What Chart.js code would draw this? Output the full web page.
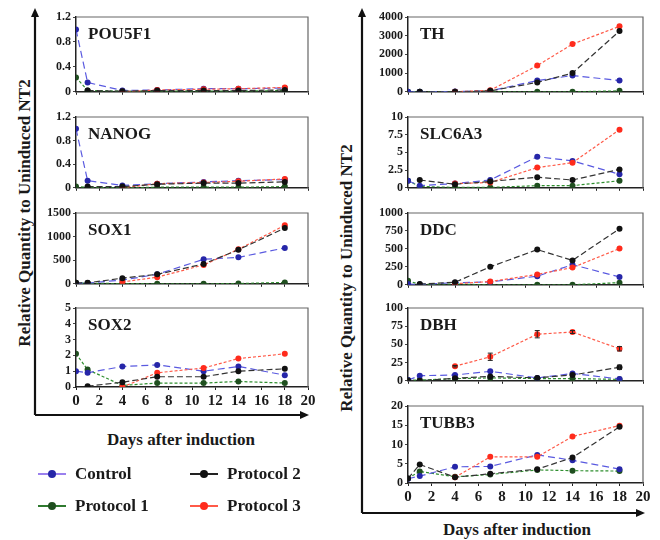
<!DOCTYPE html>
<html>
<head>
<meta charset="utf-8">
<script src="https://cdn.jsdelivr.net/npm/chart.js@4.4.0/dist/chart.umd.min.js"></script>
<style>
body { margin: 0; background: #fff; }
#page { position: relative; width: 660px; height: 540px; overflow: hidden; background: #fff;
        font-family: "Liberation Serif", "DejaVu Serif", serif; font-weight: 700; color: #1a1a1a; }
#page canvas { position: absolute; }
.ytitle { position: absolute; font-size: 17px; white-space: nowrap; transform: translate(-50%, -50%) rotate(-90deg); }
.xtitle { position: absolute; font-size: 17px; white-space: nowrap; transform: translate(-50%, -50%); }
.leg { position: absolute; font-size: 17px; white-space: nowrap; display: flex; align-items: center; height: 20px; }
.leg .sw { position: relative; width: 28px; height: 10px; margin-right: 9px; }
.leg .sw i { position: absolute; left: 0; right: 0; top: 4px; height: 1.5px; }
.leg .sw b { position: absolute; left: 10px; top: 1px; width: 8px; height: 8px; border-radius: 50%; }
</style>
</head>
<body>
<div id="page">
  <div class="ytitle" style="left:25px; top:213px;">Relative Quantity to Uninduced NT2</div>
  <div class="ytitle" style="left:347px; top:278px;">Relative Quantity to Uninduced NT2</div>
  <div class="xtitle" style="left:181px; top:440px;">Days after induction</div>
  <div class="xtitle" style="left:517px; top:530px;">Days after induction</div>
</div>
<script>
// days sampled
const days = [0, 1, 4, 7, 11, 14, 18];
const seriesNames = ['Control', 'Protocol 1', 'Protocol 2', 'Protocol 3'];

// values per gene (Control, Protocol 1, Protocol 2, Protocol 3)
const pou5f1Control = [1.0, 0.15, 0.02, 0.03, 0.05, 0.05, 0.06];
const pou5f1P1 = [0.23, 0.02, 0.01, 0.01, 0.01, 0.01, 0.02];
const pou5f1P2 = [null, 0.02, 0.01, 0.02, 0.02, 0.02, 0.03];
const pou5f1P3 = [null, null, 0.0, 0.03, 0.04, 0.05, 0.07];

const nanogControl = [1.0, 0.12, 0.04, 0.07, 0.1, 0.12, 0.14];
const nanogP1 = [0.02, 0.01, 0.0, 0.01, 0.01, 0.01, 0.02];
const nanogP2 = [null, 0.02, 0.02, 0.06, 0.08, 0.08, 0.1];
const nanogP3 = [null, null, 0.0, 0.07, 0.09, 0.11, 0.15];

const sox1Control = [10, 15, 80, 200, 520, 560, 760];
const sox1P1 = [20, 10, 5, 0, 0, 5, 30];
const sox1P2 = [20, 20, 120, 200, 420, 720, 1180];
const sox1P3 = [null, null, 40, 140, 400, 730, 1240];

const sox2Control = [1.0, 0.9, 1.3, 1.4, 1.0, 1.3, 0.75];
const sox2P1 = [2.1, 1.1, 0.1, 0.25, 0.25, 0.35, 0.25];
const sox2P2 = [null, 0.05, 0.3, 0.65, 0.65, 1.0, 1.15];
const sox2P3 = [null, null, 0.0, 0.9, 1.2, 1.8, 2.1];

const thControl = [0, 0, 10, 50, 600, 870, 600];
const thP1 = [0, 0, 0, 0, 0, 0, 50];
const thP2 = [null, 0, 0, 50, 500, 1000, 3250];
const thP3 = [null, null, 0, 80, 1400, 2550, 3500];

const slc6a3Control = [1.0, 0.3, 0.6, 1.1, 4.4, 3.8, 1.9];
const slc6a3P1 = [1.0, 0.2, 0.05, 0.05, 0.3, 0.3, 1.0];
const slc6a3P2 = [null, 1.1, 0.5, 0.9, 1.5, 1.1, 2.6];
const slc6a3P3 = [null, null, 0.6, 0.75, 2.85, 3.55, 8.2];

const ddcControl = [10, 5, 30, 40, 120, 280, 110];
const ddcP1 = [55, 5, 10, 0, 0, 0, 30];
const ddcP2 = [null, 10, 35, 250, 490, 340, 780];
const ddcP3 = [null, null, 15, 45, 145, 240, 505];

const dbhControl = [1, 7, 8, 13, 4, 10, 2.5];
const dbhP1 = [1, 1, 3, 4, 3, 3, 2];
const dbhP2 = [0.5, 0, 3.5, 6, 4, 8, 18.5];
const dbhP2Err = [null, null, null, null, null, null, 3];
const dbhP3 = [null, null, 20, 33, 64, 67, 44];
const dbhP3Err = [null, null, 1, 5, 5, 2, 3];

const tubb3Control = [1.1, 1.8, 4.2, 4.3, 7.3, 5.9, 3.6];
const tubb3P1 = [1.2, 3.0, 1.6, 2.2, 3.4, 3.2, 3.1];
const tubb3P2 = [1.2, 4.8, 1.5, 2.4, 3.6, 6.6, 14.6];
const tubb3P3 = [null, null, 1.5, 6.8, 6.8, 12.1, 14.9];

// styles
const markerColors = ['#2626a8', '#1f4f1f', '#111111', '#ff2b1c'];
const lineColors = ['#5a5ae0', '#2f8f2f', '#333333', '#ff5a48'];
const lineDashes = [[7, 4], [3, 2], [6, 3], [3, 2]];
const legendLineColors = ['#9a80ee', '#2f7a2f', '#222222', '#ff5a48'];

const panels = [
    { gene: 'POU5F1', values: [pou5f1Control, pou5f1P1, pou5f1P2, pou5f1P3], max: 1.2, step: 0.4, rect: [76, 17, 308, 97], col: 0 },
    { gene: 'NANOG', values: [nanogControl, nanogP1, nanogP2, nanogP3], max: 1.2, step: 0.4, rect: [76, 117, 308, 193], col: 0 },
    { gene: 'SOX1', values: [sox1Control, sox1P1, sox1P2, sox1P3], max: 1500, step: 500, rect: [76, 213, 308, 289], col: 0 },
    { gene: 'SOX2', values: [sox2Control, sox2P1, sox2P2, sox2P3], max: 5, step: 1, rect: [76, 308, 308, 387], col: 0, bottom: true },
    { gene: 'TH', values: [thControl, thP1, thP2, thP3], max: 4000, step: 1000, rect: [408, 17, 643, 97], col: 1 },
    { gene: 'SLC6A3', values: [slc6a3Control, slc6a3P1, slc6a3P2, slc6a3P3], max: 10, step: 2.5, rect: [408, 117, 643, 193], col: 1 },
    { gene: 'DDC', values: [ddcControl, ddcP1, ddcP2, ddcP3], max: 1000, step: 250, rect: [408, 213, 643, 290], col: 1 },
    { gene: 'DBH', values: [dbhControl, dbhP1, dbhP2, dbhP3], errors: [null, null, dbhP2Err, dbhP3Err], max: 100, step: 25, rect: [408, 308, 643, 386], col: 1 },
    { gene: 'TUBB3', values: [tubb3Control, tubb3P1, tubb3P2, tubb3P3], max: 20, step: 5, rect: [408, 406, 643, 483], col: 1, bottom: true }
];

const page = document.getElementById('page');
const serif = '"Liberation Serif", "DejaVu Serif", serif';

// top/right frame of each plot box
const framePlugin = {
    id: 'frame',
    beforeDatasetsDraw(chart) {
        const a = chart.chartArea;
        const ctx = chart.ctx;
        ctx.save();
        ctx.strokeStyle = '#666';
        ctx.lineWidth = 1.2;
        ctx.beginPath();
        ctx.moveTo(a.left, a.top);
        ctx.lineTo(a.right, a.top);
        ctx.lineTo(a.right, a.bottom);
        ctx.stroke();
        ctx.restore();
    }
};

// error bars for points carrying an "e" value
const errorPlugin = {
    id: 'errbars',
    afterDatasetsDraw(chart) {
        const ctx = chart.ctx;
        const ys = chart.scales.y;
        chart.data.datasets.forEach((ds, i) => {
            const meta = chart.getDatasetMeta(i);
            ds.data.forEach((pt, k) => {
                if (pt.e == null) return;
                const el = meta.data[k];
                const y1 = ys.getPixelForValue(pt.y + pt.e);
                const y2 = ys.getPixelForValue(pt.y - pt.e);
                ctx.save();
                ctx.strokeStyle = '#222';
                ctx.lineWidth = 1;
                ctx.beginPath();
                ctx.moveTo(el.x, y1); ctx.lineTo(el.x, y2);
                ctx.moveTo(el.x - 2.5, y1); ctx.lineTo(el.x + 2.5, y1);
                ctx.moveTo(el.x - 2.5, y2); ctx.lineTo(el.x + 2.5, y2);
                ctx.stroke();
                ctx.restore();
            });
        });
    }
};

function titlePlugin(text) {
    return {
        id: 'geneTitle',
        afterDraw(chart) {
            const a = chart.chartArea;
            const ctx = chart.ctx;
            ctx.save();
            ctx.font = 'bold 17px ' + serif;
            ctx.fillStyle = '#1a1a1a';
            ctx.textBaseline = 'alphabetic';
            ctx.fillText(text, a.left + 12, a.top + 22);
            ctx.restore();
        }
    };
}

function makePanel(p) {
    const [l, t, r, b] = p.rect;
    const axW = p.col === 0 ? 46 : 40;
    const padTop = 10, padRight = 12;
    const axH = p.bottom ? 24 : 4;

    const canvas = document.createElement('canvas');
    canvas.width = axW + (r - l) + padRight;
    canvas.height = padTop + (b - t) + axH;
    canvas.style.left = (l - axW) + 'px';
    canvas.style.top = (t - padTop) + 'px';
    page.appendChild(canvas);

    const datasets = p.values.map((vals, i) => {
        const errs = p.errors ? p.errors[i] : null;
        const pts = [];
        days.forEach((d, k) => {
            if (vals[k] === null) return;
            pts.push({ x: d, y: vals[k], e: errs ? errs[k] : null });
        });
        return {
            label: seriesNames[i],
            data: pts,
            borderColor: lineColors[i],
            borderDash: lineDashes[i],
            borderWidth: 1.2,
            pointRadius: 3,
            pointBackgroundColor: markerColors[i],
            pointBorderColor: markerColors[i],
            pointBorderWidth: 0,
            tension: 0,
            fill: false,
            order: [3, 4, 1, 2][i]
        };
    });

    return new Chart(canvas, {
        type: 'line',
        data: { datasets: datasets },
        options: {
            responsive: false,
            animation: false,
            devicePixelRatio: 1,
            layout: { padding: { top: padTop, right: padRight, left: 0, bottom: 0 } },
            plugins: { legend: { display: false }, tooltip: { enabled: false } },
            scales: {
                x: {
                    type: 'linear',
                    min: 0,
                    max: 20,
                    afterFit: s => { s.height = axH; },
                    ticks: {
                        display: !!p.bottom,
                        stepSize: 2,
                        autoSkip: false,
                        maxRotation: 0,
                        padding: 2,
                        color: '#1a1a1a',
                        font: { family: serif, size: 15, weight: 'bold' }
                    },
                    grid: { drawOnChartArea: false, drawTicks: true, tickLength: 3, color: '#222' },
                    border: { color: '#222', width: 1.5 }
                },
                y: {
                    min: 0,
                    max: p.max,
                    afterFit: s => { s.width = axW; },
                    ticks: {
                        stepSize: p.step,
                        autoSkip: false,
                        padding: 2,
                        color: '#1a1a1a',
                        font: { family: serif, size: 12, weight: 'bold' },
                        callback: v => String(+v.toFixed(2))
                    },
                    grid: { drawOnChartArea: false, drawTicks: true, tickLength: 3, color: '#444' },
                    border: { color: '#222', width: 1.5 }
                }
            }
        },
        plugins: [framePlugin, errorPlugin, titlePlugin(p.gene)]
    });
}

panels.forEach(makePanel);

// big axis arrows
const arrows = document.createElement('canvas');
arrows.width = 660;
arrows.height = 540;
arrows.style.left = '0px';
arrows.style.top = '0px';
page.appendChild(arrows);
const actx = arrows.getContext('2d');
actx.strokeStyle = '#111';
actx.fillStyle = '#111';
actx.lineWidth = 2.2;
function arrowTo(x0, y0, x1, y1) {
    actx.beginPath();
    actx.moveTo(x0, y0);
    actx.lineTo(x1, y1);
    actx.stroke();
    const ang = Math.atan2(y1 - y0, x1 - x0);
    actx.beginPath();
    actx.moveTo(x1 + 3 * Math.cos(ang), y1 + 3 * Math.sin(ang));
    actx.lineTo(x1 - 6 * Math.cos(ang) - 4 * Math.sin(ang), y1 - 6 * Math.sin(ang) + 4 * Math.cos(ang));
    actx.lineTo(x1 - 6 * Math.cos(ang) + 4 * Math.sin(ang), y1 - 6 * Math.sin(ang) - 4 * Math.cos(ang));
    actx.closePath();
    actx.fill();
}
arrowTo(35, 415, 35, 11);
arrowTo(35, 415, 306, 415);
arrowTo(362, 513, 362, 11);
arrowTo(362, 513, 642, 513);

// legend
const legendPos = [[38, 474], [38, 506], [190, 474], [190, 506]];
seriesNames.forEach((name, i) => {
    const item = document.createElement('div');
    item.className = 'leg';
    item.style.left = legendPos[i][0] + 'px';
    item.style.top = (legendPos[i][1] - 10) + 'px';
    item.innerHTML = '<span class="sw"><i style="background:' + legendLineColors[i] + '"></i><b style="background:' +
        markerColors[i] + '"></b></span><span>' + name + '</span>';
    page.appendChild(item);
});
</script>
</body>
</html>
